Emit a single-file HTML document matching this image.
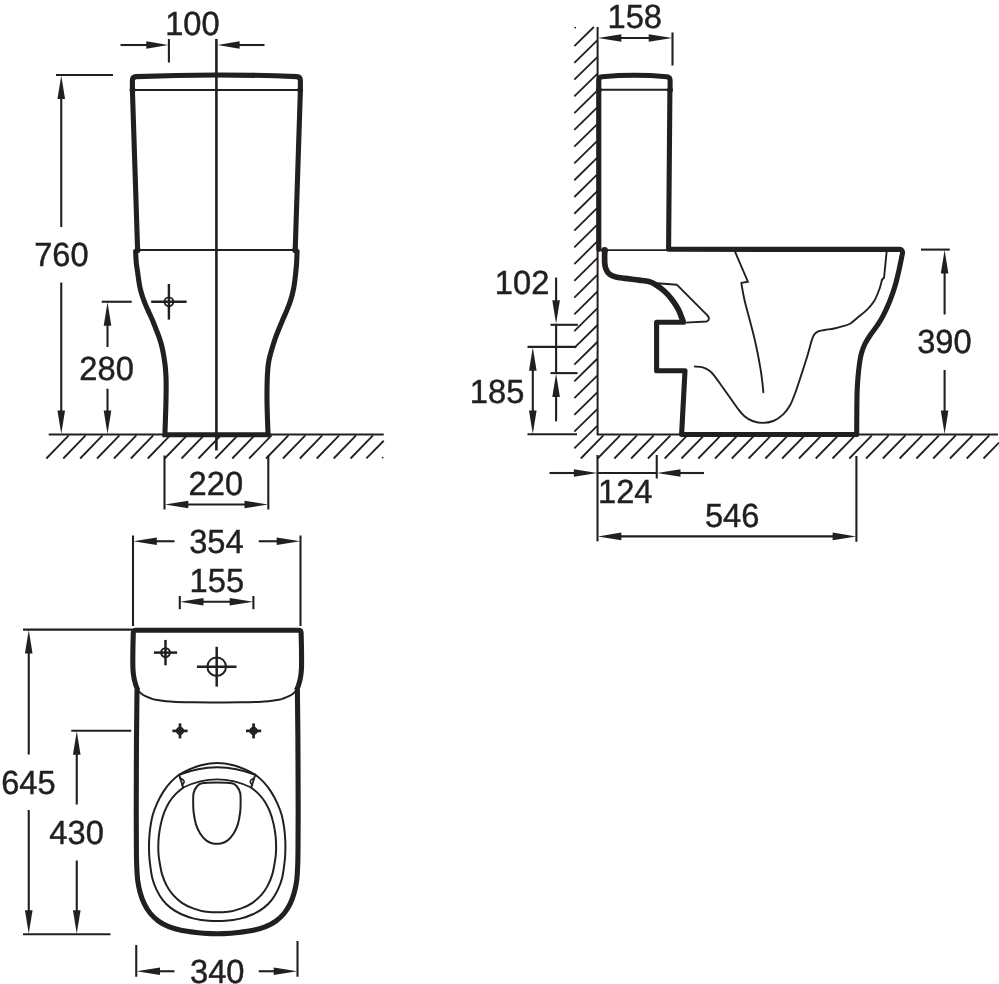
<!DOCTYPE html>
<html><head><meta charset="utf-8"><title>Dimension drawing</title>
<style>
html,body{margin:0;padding:0;background:#fff;overflow:hidden}
svg{display:block;will-change:transform;opacity:.9999}
svg *{stroke:#231f20;fill:none}
svg .f{fill:#231f20;stroke:none}
svg text{font-family:"Liberation Sans",sans-serif;fill:#231f20;stroke:#231f20;stroke-width:0.45;text-rendering:geometricPrecision}
</style></head>
<body>
<svg width="999" height="984" viewBox="0 0 999 984">
<rect x="0" y="0" width="999" height="984" style="fill:#fff;stroke:none"/>
<line x1="216.40" y1="39.00" x2="216.40" y2="450.50" stroke-width="2.6" stroke-linecap="butt" />
<path d="M132.4,90 L132.4,80.5 Q132.4,76.9 136.2,76.6 Q216.3,73.3 296.6,76.6 Q300.4,76.9 300.4,80.5 L300.4,90" stroke-width="5.1" stroke-linejoin="round" stroke-linecap="round"/>
<line x1="132.40" y1="90.00" x2="300.40" y2="90.00" stroke-width="1.9" stroke-linecap="butt" />
<path d="M132.4,90 L137.6,250" stroke-width="5.1" stroke-linejoin="round" stroke-linecap="round"/>
<path d="M300.4,90 L295.2,250" stroke-width="5.1" stroke-linejoin="round" stroke-linecap="round"/>
<line x1="137.60" y1="250.00" x2="295.20" y2="250.00" stroke-width="1.9" stroke-linecap="butt" />
<circle class="f" cx="132.6" cy="90" r="2.9"/>
<circle class="f" cx="300.2" cy="90" r="2.9"/>
<circle class="f" cx="137.7" cy="250" r="2.9"/>
<circle class="f" cx="295.1" cy="250" r="2.9"/>
<path d="M135.60,251.20 C135.72,253.17 135.97,259.53 136.30,263.00 C136.63,266.47 137.20,269.17 137.60,272.00 C138.00,274.83 138.28,277.32 138.70,280.00 C139.12,282.68 139.48,285.38 140.10,288.10 C140.72,290.82 141.52,293.58 142.40,296.30 C143.28,299.02 144.30,301.70 145.40,304.40 C146.50,307.10 147.78,309.78 149.00,312.50 C150.22,315.22 151.55,317.98 152.70,320.70 C153.85,323.42 154.85,326.10 155.90,328.80 C156.95,331.50 158.07,334.20 159.00,336.90 C159.93,339.60 160.78,342.28 161.50,345.00 C162.22,347.72 162.82,350.70 163.30,353.20 C163.78,355.70 164.05,357.53 164.40,360.00 C164.75,362.47 165.12,364.67 165.40,368.00 C165.68,371.33 166.00,374.67 166.10,380.00 C166.20,385.33 166.12,393.33 166.00,400.00 C165.88,406.67 165.58,414.22 165.40,420.00 C165.22,425.78 164.98,432.25 164.90,434.70 L268.1,434.7" stroke-width="5.1" stroke-linejoin="miter" stroke-linecap="round"/>
<path d="M297.10,251.20 C297.02,253.17 296.82,259.53 296.60,263.00 C296.38,266.47 296.08,269.17 295.80,272.00 C295.52,274.83 295.25,277.32 294.90,280.00 C294.55,282.68 294.22,285.38 293.70,288.10 C293.18,290.82 292.55,293.58 291.80,296.30 C291.05,299.02 290.18,301.70 289.20,304.40 C288.22,307.10 287.05,309.78 285.90,312.50 C284.75,315.22 283.45,317.98 282.30,320.70 C281.15,323.42 280.08,326.10 279.00,328.80 C277.92,331.50 276.78,334.20 275.80,336.90 C274.82,339.60 273.95,342.28 273.10,345.00 C272.25,347.72 271.38,350.70 270.70,353.20 C270.02,355.70 269.47,357.53 269.00,360.00 C268.53,362.47 268.20,364.67 267.90,368.00 C267.60,371.33 267.35,374.67 267.20,380.00 C267.05,385.33 266.95,393.33 267.00,400.00 C267.05,406.67 267.32,414.22 267.50,420.00 C267.68,425.78 268.00,432.25 268.10,434.70" stroke-width="5.1" stroke-linejoin="round" stroke-linecap="round"/>
<line x1="120.50" y1="45.00" x2="150.00" y2="45.00" stroke-width="2.1" stroke-linecap="butt" />
<polygon class="f" points="168.30,45.00 146.30,41.30 146.30,48.70"/>
<line x1="168.90" y1="39.00" x2="168.90" y2="62.50" stroke-width="2.1" stroke-linecap="butt" />
<line x1="236.00" y1="45.00" x2="264.50" y2="45.00" stroke-width="2.1" stroke-linecap="butt" />
<polygon class="f" points="217.60,45.00 239.60,41.30 239.60,48.70"/>
<text transform="translate(165.20,34.80) scale(0.975,1)" font-size="33.5">100</text>
<line x1="56.00" y1="75.00" x2="113.00" y2="75.00" stroke-width="2.1" stroke-linecap="butt" />
<line x1="61.25" y1="95.00" x2="61.25" y2="227.00" stroke-width="2.1" stroke-linecap="butt" />
<polygon class="f" points="61.25,75.50 57.45,99.00 65.05,99.00"/>
<text transform="translate(34.20,266.30) scale(0.975,1)" font-size="33.5">760</text>
<line x1="61.25" y1="282.50" x2="61.25" y2="415.00" stroke-width="2.1" stroke-linecap="butt" />
<polygon class="f" points="61.25,434.00 57.45,410.50 65.05,410.50"/>
<line x1="101.75" y1="301.75" x2="131.75" y2="301.75" stroke-width="2.1" stroke-linecap="butt" />
<line x1="107.50" y1="320.00" x2="107.50" y2="347.00" stroke-width="2.1" stroke-linecap="butt" />
<polygon class="f" points="107.50,302.30 103.70,325.80 111.30,325.80"/>
<text transform="translate(79.30,379.60) scale(0.975,1)" font-size="33.5">280</text>
<line x1="107.50" y1="388.75" x2="107.50" y2="415.00" stroke-width="2.1" stroke-linecap="butt" />
<polygon class="f" points="107.50,434.00 103.70,410.50 111.30,410.50"/>
<line x1="151.20" y1="301.80" x2="186.60" y2="301.80" stroke-width="2.4" stroke-linecap="butt" />
<line x1="168.90" y1="284.00" x2="168.90" y2="319.60" stroke-width="2.4" stroke-linecap="butt" />
<circle cx="168.90" cy="301.80" r="4.4" stroke-width="1.92"/>
<line x1="48.75" y1="434.50" x2="383.75" y2="434.50" stroke-width="2.0" stroke-linecap="butt" />
<line x1="68.75" y1="435.30" x2="46.35" y2="458.50" stroke-width="1.8" stroke-linecap="butt" />
<line x1="85.65" y1="435.30" x2="63.25" y2="458.50" stroke-width="1.8" stroke-linecap="butt" />
<line x1="102.55" y1="435.30" x2="80.15" y2="458.50" stroke-width="1.8" stroke-linecap="butt" />
<line x1="119.45" y1="435.30" x2="97.05" y2="458.50" stroke-width="1.8" stroke-linecap="butt" />
<line x1="136.35" y1="435.30" x2="113.95" y2="458.50" stroke-width="1.8" stroke-linecap="butt" />
<line x1="153.25" y1="435.30" x2="130.85" y2="458.50" stroke-width="1.8" stroke-linecap="butt" />
<line x1="170.15" y1="435.30" x2="147.75" y2="458.50" stroke-width="1.8" stroke-linecap="butt" />
<line x1="187.05" y1="435.30" x2="164.65" y2="458.50" stroke-width="1.8" stroke-linecap="butt" />
<line x1="203.95" y1="435.30" x2="181.55" y2="458.50" stroke-width="1.8" stroke-linecap="butt" />
<line x1="220.85" y1="435.30" x2="198.45" y2="458.50" stroke-width="1.8" stroke-linecap="butt" />
<line x1="237.75" y1="435.30" x2="215.35" y2="458.50" stroke-width="1.8" stroke-linecap="butt" />
<line x1="254.65" y1="435.30" x2="232.25" y2="458.50" stroke-width="1.8" stroke-linecap="butt" />
<line x1="271.55" y1="435.30" x2="249.15" y2="458.50" stroke-width="1.8" stroke-linecap="butt" />
<line x1="288.45" y1="435.30" x2="266.05" y2="458.50" stroke-width="1.8" stroke-linecap="butt" />
<line x1="305.35" y1="435.30" x2="282.95" y2="458.50" stroke-width="1.8" stroke-linecap="butt" />
<line x1="322.25" y1="435.30" x2="299.85" y2="458.50" stroke-width="1.8" stroke-linecap="butt" />
<line x1="339.15" y1="435.30" x2="316.75" y2="458.50" stroke-width="1.8" stroke-linecap="butt" />
<line x1="356.05" y1="435.30" x2="333.65" y2="458.50" stroke-width="1.8" stroke-linecap="butt" />
<line x1="372.95" y1="435.30" x2="350.55" y2="458.50" stroke-width="1.8" stroke-linecap="butt" />
<line x1="383.75" y1="440.75" x2="366.40" y2="458.30" stroke-width="1.8" stroke-linecap="butt" />
<circle class="f" cx="382.6" cy="457.6" r="0.9"/>
<line x1="164.50" y1="455.50" x2="164.50" y2="509.50" stroke-width="2.1" stroke-linecap="butt" />
<line x1="268.30" y1="455.50" x2="268.30" y2="509.50" stroke-width="2.1" stroke-linecap="butt" />
<line x1="185.00" y1="504.50" x2="248.00" y2="504.50" stroke-width="2.1" stroke-linecap="butt" />
<polygon class="f" points="164.80,504.50 188.30,500.70 188.30,508.30"/>
<polygon class="f" points="268.00,504.50 244.50,500.70 244.50,508.30"/>
<text transform="translate(188.60,494.60) scale(0.975,1)" font-size="33.5">220</text>
<line x1="133.00" y1="535.50" x2="133.00" y2="626.00" stroke-width="2.1" stroke-linecap="butt" />
<line x1="300.50" y1="535.50" x2="300.50" y2="626.00" stroke-width="2.1" stroke-linecap="butt" />
<polygon class="f" points="133.30,541.25 156.80,537.45 156.80,545.05"/>
<line x1="153.00" y1="541.25" x2="174.50" y2="541.25" stroke-width="2.1" stroke-linecap="butt" />
<polygon class="f" points="300.20,541.25 276.70,537.45 276.70,545.05"/>
<line x1="258.75" y1="541.25" x2="280.00" y2="541.25" stroke-width="2.1" stroke-linecap="butt" />
<text transform="translate(189.20,553.20) scale(0.975,1)" font-size="33.5">354</text>
<text transform="translate(189.60,591.60) scale(0.975,1)" font-size="33.5">155</text>
<line x1="179.80" y1="596.00" x2="179.80" y2="609.20" stroke-width="2.1" stroke-linecap="butt" />
<line x1="253.40" y1="596.00" x2="253.40" y2="609.20" stroke-width="2.1" stroke-linecap="butt" />
<line x1="200.00" y1="601.75" x2="233.00" y2="601.75" stroke-width="2.1" stroke-linecap="butt" />
<polygon class="f" points="180.00,601.75 203.50,597.95 203.50,605.55"/>
<polygon class="f" points="253.20,601.75 229.70,597.95 229.70,605.55"/>
<path d="M137.9,690.3 C134.9,684 133.2,677 132.9,668 C132.6,655 133.1,640 133.3,632.8 Q133.3,630.2 135.9,630.2 L298.5,630.2 Q301.1,630.2 301.1,632.8 C301.3,640 301.8,655 301.5,668 C301.2,677 299.5,684 296.5,690.3" stroke-width="5.1" stroke-linejoin="round" stroke-linecap="butt"/>
<path d="M137.90,690.10 C138.48,690.70 140.13,692.68 141.40,693.70 C142.67,694.72 143.97,695.43 145.50,696.20 C147.03,696.97 148.90,697.70 150.60,698.30 C152.30,698.90 153.17,699.30 155.70,699.80 C158.23,700.30 162.42,700.95 165.80,701.30 C169.18,701.65 171.13,701.73 176.00,701.90 C180.87,702.07 188.13,702.22 195.00,702.30 C201.87,702.38 209.80,702.40 217.20,702.40 C224.60,702.40 232.53,702.38 239.40,702.30 C246.27,702.22 253.53,702.07 258.40,701.90 C263.27,701.73 265.22,701.65 268.60,701.30 C271.98,700.95 276.17,700.30 278.70,699.80 C281.23,699.30 282.10,698.90 283.80,698.30 C285.50,697.70 287.37,696.97 288.90,696.20 C290.43,695.43 291.73,694.72 293.00,693.70 C294.27,692.68 295.92,690.70 296.50,690.10" stroke-width="2.0" stroke-linejoin="round" stroke-linecap="round"/>
<path d="M137.00,690.50 C136.92,698.42 136.62,717.58 136.50,738.00 C136.38,758.42 136.27,794.33 136.25,813.00 C136.23,831.67 136.33,841.30 136.40,850.00 C136.47,858.70 136.48,860.12 136.70,865.20 C136.92,870.28 137.12,875.92 137.70,880.50 C138.28,885.08 139.10,888.80 140.20,892.70 C141.30,896.60 142.60,900.43 144.30,903.90 C146.00,907.37 148.03,910.63 150.40,913.50 C152.77,916.37 155.45,918.90 158.50,921.10 C161.55,923.30 164.97,925.17 168.70,926.70 C172.43,928.23 176.33,929.33 180.90,930.30 C185.47,931.27 191.17,931.95 196.10,932.50 C201.03,933.05 205.87,933.42 210.50,933.60 C215.13,933.78 219.27,933.78 223.90,933.60 C228.53,933.42 233.37,933.05 238.30,932.50 C243.23,931.95 248.93,931.27 253.50,930.30 C258.07,929.33 261.97,928.23 265.70,926.70 C269.43,925.17 272.85,923.30 275.90,921.10 C278.95,918.90 281.63,916.37 284.00,913.50 C286.37,910.63 288.40,907.37 290.10,903.90 C291.80,900.43 293.10,896.60 294.20,892.70 C295.30,888.80 296.12,885.08 296.70,880.50 C297.28,875.92 297.48,870.28 297.70,865.20 C297.92,860.12 297.93,858.70 298.00,850.00 C298.07,841.30 298.17,831.67 298.15,813.00 C298.13,794.33 298.02,758.42 297.90,738.00 C297.77,717.58 297.48,698.42 297.40,690.50" stroke-width="5.1" stroke-linejoin="round" stroke-linecap="round"/>
<line x1="153.90" y1="652.60" x2="177.10" y2="652.60" stroke-width="2.5" stroke-linecap="butt" />
<line x1="165.50" y1="639.90" x2="165.50" y2="665.30" stroke-width="2.5" stroke-linecap="butt" />
<circle cx="165.50" cy="652.60" r="4.4" stroke-width="2.00"/>
<line x1="196.90" y1="666.70" x2="236.50" y2="666.70" stroke-width="2.5" stroke-linecap="butt" />
<line x1="216.70" y1="646.80" x2="216.70" y2="686.60" stroke-width="2.5" stroke-linecap="butt" />
<circle cx="216.70" cy="666.70" r="9.3" stroke-width="2.00"/>
<line x1="172.40" y1="730.90" x2="187.60" y2="730.90" stroke-width="2.7" stroke-linecap="butt" />
<line x1="180.00" y1="723.40" x2="180.00" y2="738.40" stroke-width="2.7" stroke-linecap="butt" />
<circle cx="180.00" cy="730.90" r="3.1" stroke-width="2.16"/>
<line x1="246.00" y1="730.90" x2="261.20" y2="730.90" stroke-width="2.7" stroke-linecap="butt" />
<line x1="253.60" y1="723.40" x2="253.60" y2="738.40" stroke-width="2.7" stroke-linecap="butt" />
<circle cx="253.60" cy="730.90" r="3.1" stroke-width="2.16"/>
<path d="M217.20,763.10 C211.80,763.10 205.73,764.10 201.00,765.20 C196.27,766.30 192.45,768.10 188.80,769.70 C185.15,771.30 182.15,772.68 179.10,774.80 C176.05,776.92 173.12,779.60 170.50,782.40 C167.88,785.20 165.60,788.20 163.40,791.60 C161.20,795.00 159.08,798.90 157.30,802.80 C155.52,806.70 153.88,810.77 152.70,815.00 C151.52,819.23 150.80,823.80 150.20,828.20 C149.60,832.60 149.27,836.93 149.10,841.40 C148.93,845.87 149.02,851.03 149.20,855.00 C149.38,858.97 149.67,861.28 150.20,865.20 C150.73,869.12 151.35,874.43 152.40,878.50 C153.45,882.57 154.80,886.05 156.50,889.60 C158.20,893.15 160.23,896.75 162.60,899.80 C164.97,902.85 167.65,905.53 170.70,907.90 C173.75,910.27 177.00,912.22 180.90,914.00 C184.80,915.78 189.45,917.47 194.10,918.60 C198.75,919.73 203.55,920.43 208.80,920.80 C214.05,921.17 220.35,921.17 225.60,920.80 C230.85,920.43 235.65,919.73 240.30,918.60 C244.95,917.47 249.60,915.78 253.50,914.00 C257.40,912.22 260.65,910.27 263.70,907.90 C266.75,905.53 269.43,902.85 271.80,899.80 C274.17,896.75 276.20,893.15 277.90,889.60 C279.60,886.05 280.95,882.57 282.00,878.50 C283.05,874.43 283.67,869.12 284.20,865.20 C284.73,861.28 285.02,858.97 285.20,855.00 C285.38,851.03 285.47,845.87 285.30,841.40 C285.13,836.93 284.80,832.60 284.20,828.20 C283.60,823.80 282.88,819.23 281.70,815.00 C280.52,810.77 278.88,806.70 277.10,802.80 C275.32,798.90 273.20,795.00 271.00,791.60 C268.80,788.20 266.52,785.20 263.90,782.40 C261.28,779.60 258.35,776.92 255.30,774.80 C252.25,772.68 249.25,771.30 245.60,769.70 C241.95,768.10 238.13,766.30 233.40,765.20 C228.67,764.10 222.60,763.10 217.20,763.10Z" stroke-width="2.0" stroke-linejoin="round" stroke-linecap="round"/>
<path d="M183.20,787.50 C181.93,788.60 177.88,791.73 175.60,794.10 C173.32,796.47 171.37,798.73 169.50,801.70 C167.63,804.67 165.85,808.17 164.40,811.90 C162.95,815.63 161.73,820.03 160.80,824.10 C159.87,828.17 159.22,832.57 158.80,836.30 C158.38,840.03 158.33,843.38 158.30,846.50 C158.27,849.62 158.38,852.38 158.60,855.00 C158.82,857.62 159.02,858.97 159.60,862.20 C160.18,865.43 160.92,870.50 162.10,874.40 C163.28,878.30 164.92,882.22 166.70,885.60 C168.48,888.98 170.27,891.83 172.80,894.70 C175.33,897.57 178.52,900.52 181.90,902.80 C185.28,905.08 189.03,906.90 193.10,908.40 C197.17,909.90 200.47,911.23 206.30,911.80 C212.13,912.37 222.27,912.37 228.10,911.80 C233.93,911.23 237.23,909.90 241.30,908.40 C245.37,906.90 249.12,905.08 252.50,902.80 C255.88,900.52 259.07,897.57 261.60,894.70 C264.13,891.83 265.92,888.98 267.70,885.60 C269.48,882.22 271.12,878.30 272.30,874.40 C273.48,870.50 274.22,865.43 274.80,862.20 C275.38,858.97 275.58,857.62 275.80,855.00 C276.02,852.38 276.13,849.62 276.10,846.50 C276.07,843.38 276.02,840.03 275.60,836.30 C275.18,832.57 274.53,828.17 273.60,824.10 C272.67,820.03 271.45,815.63 270.00,811.90 C268.55,808.17 266.77,804.67 264.90,801.70 C263.03,798.73 261.08,796.47 258.80,794.10 C256.52,791.73 252.47,788.60 251.20,787.50" stroke-width="2.0" stroke-linejoin="round" stroke-linecap="round"/>
<path d="M179.1,774.8 Q217.2,759.6 255.3,774.8" stroke-width="1.9" stroke-linejoin="round" stroke-linecap="round"/>
<path d="M183.2,787.5 Q217.2,771.3 251.2,787.5" stroke-width="1.9" stroke-linejoin="round" stroke-linecap="round"/>
<path d="M179.1,774.8 L183.2,787.5 M255.3,774.8 L251.2,787.5" stroke-width="1.9" stroke-linejoin="round" stroke-linecap="round"/>
<path d="M180.1,778.2 Q187.2,780.6 181.9,785.2 M254.3,778.2 Q247.2,780.6 252.5,785.2" stroke-width="1.5" stroke-linejoin="round" stroke-linecap="round"/>
<path d="M216.90,782.40 C211.93,782.40 205.33,782.52 202.00,783.20 C198.67,783.88 198.30,784.87 196.90,786.50 C195.50,788.13 194.22,790.25 193.60,793.00 C192.98,795.75 193.20,799.83 193.20,803.00 C193.20,806.17 193.15,808.48 193.60,812.00 C194.05,815.52 194.83,820.55 195.90,824.10 C196.97,827.65 198.30,830.58 200.00,833.30 C201.70,836.02 203.97,838.72 206.10,840.40 C208.23,842.08 210.32,842.90 212.80,843.40 C215.28,843.90 218.52,843.90 221.00,843.40 C223.48,842.90 225.57,842.08 227.70,840.40 C229.83,838.72 232.10,836.02 233.80,833.30 C235.50,830.58 236.83,827.65 237.90,824.10 C238.97,820.55 239.75,815.52 240.20,812.00 C240.65,808.48 240.60,806.17 240.60,803.00 C240.60,799.83 240.82,795.75 240.20,793.00 C239.58,790.25 238.30,788.13 236.90,786.50 C235.50,784.87 235.13,783.88 231.80,783.20 C228.47,782.52 221.87,782.40 216.90,782.40Z" stroke-width="2.0" stroke-linejoin="round" stroke-linecap="round"/>
<line x1="23.00" y1="629.60" x2="132.00" y2="629.60" stroke-width="2.1" stroke-linecap="butt" />
<line x1="28.75" y1="650.00" x2="28.75" y2="754.50" stroke-width="2.1" stroke-linecap="butt" />
<polygon class="f" points="28.75,630.00 24.95,653.50 32.55,653.50"/>
<text transform="translate(1.20,794.00) scale(0.975,1)" font-size="33.5">645</text>
<line x1="28.75" y1="810.00" x2="28.75" y2="915.00" stroke-width="2.1" stroke-linecap="butt" />
<polygon class="f" points="28.75,933.80 24.95,910.30 32.55,910.30"/>
<line x1="71.25" y1="730.75" x2="131.25" y2="730.75" stroke-width="2.1" stroke-linecap="butt" />
<line x1="76.75" y1="750.00" x2="76.75" y2="804.50" stroke-width="2.1" stroke-linecap="butt" />
<polygon class="f" points="76.75,731.20 72.95,754.70 80.55,754.70"/>
<text transform="translate(49.30,843.90) scale(0.975,1)" font-size="33.5">430</text>
<line x1="76.75" y1="860.50" x2="76.75" y2="915.00" stroke-width="2.1" stroke-linecap="butt" />
<polygon class="f" points="76.75,933.80 72.95,910.30 80.55,910.30"/>
<line x1="23.00" y1="934.25" x2="110.50" y2="934.25" stroke-width="2.1" stroke-linecap="butt" />
<line x1="136.25" y1="945.00" x2="136.25" y2="976.75" stroke-width="2.1" stroke-linecap="butt" />
<line x1="297.50" y1="941.00" x2="297.50" y2="976.75" stroke-width="2.1" stroke-linecap="butt" />
<polygon class="f" points="136.50,971.25 160.00,967.45 160.00,975.05"/>
<line x1="157.00" y1="971.25" x2="174.50" y2="971.25" stroke-width="2.1" stroke-linecap="butt" />
<polygon class="f" points="297.20,971.25 273.70,967.45 273.70,975.05"/>
<line x1="258.75" y1="971.25" x2="280.00" y2="971.25" stroke-width="2.1" stroke-linecap="butt" />
<text transform="translate(190.00,983.20) scale(0.975,1)" font-size="33.5">340</text>
<line x1="597.60" y1="27.00" x2="597.60" y2="434.50" stroke-width="2.0" stroke-linecap="butt" />
<line x1="597.30" y1="425.80" x2="574.30" y2="448.40" stroke-width="1.8" stroke-linecap="butt" />
<line x1="597.30" y1="409.04" x2="574.30" y2="431.64" stroke-width="1.8" stroke-linecap="butt" />
<line x1="597.30" y1="392.28" x2="574.30" y2="414.88" stroke-width="1.8" stroke-linecap="butt" />
<line x1="597.30" y1="375.52" x2="574.30" y2="398.12" stroke-width="1.8" stroke-linecap="butt" />
<line x1="597.30" y1="358.76" x2="574.30" y2="381.36" stroke-width="1.8" stroke-linecap="butt" />
<line x1="597.30" y1="342.00" x2="574.30" y2="364.60" stroke-width="1.8" stroke-linecap="butt" />
<line x1="597.30" y1="325.24" x2="574.30" y2="347.84" stroke-width="1.8" stroke-linecap="butt" />
<line x1="597.30" y1="308.48" x2="574.30" y2="331.08" stroke-width="1.8" stroke-linecap="butt" />
<line x1="597.30" y1="291.72" x2="574.30" y2="314.32" stroke-width="1.8" stroke-linecap="butt" />
<line x1="597.30" y1="274.96" x2="574.30" y2="297.56" stroke-width="1.8" stroke-linecap="butt" />
<line x1="597.30" y1="258.20" x2="574.30" y2="280.80" stroke-width="1.8" stroke-linecap="butt" />
<line x1="597.30" y1="241.44" x2="574.30" y2="264.04" stroke-width="1.8" stroke-linecap="butt" />
<line x1="597.30" y1="224.68" x2="574.30" y2="247.28" stroke-width="1.8" stroke-linecap="butt" />
<line x1="597.30" y1="207.92" x2="574.30" y2="230.52" stroke-width="1.8" stroke-linecap="butt" />
<line x1="597.30" y1="191.16" x2="574.30" y2="213.76" stroke-width="1.8" stroke-linecap="butt" />
<line x1="597.30" y1="174.40" x2="574.30" y2="197.00" stroke-width="1.8" stroke-linecap="butt" />
<line x1="597.30" y1="157.64" x2="574.30" y2="180.24" stroke-width="1.8" stroke-linecap="butt" />
<line x1="597.30" y1="140.88" x2="574.30" y2="163.48" stroke-width="1.8" stroke-linecap="butt" />
<line x1="597.30" y1="124.12" x2="574.30" y2="146.72" stroke-width="1.8" stroke-linecap="butt" />
<line x1="597.30" y1="107.36" x2="574.30" y2="129.96" stroke-width="1.8" stroke-linecap="butt" />
<line x1="597.30" y1="90.60" x2="574.30" y2="113.20" stroke-width="1.8" stroke-linecap="butt" />
<line x1="597.30" y1="73.84" x2="574.30" y2="96.44" stroke-width="1.8" stroke-linecap="butt" />
<line x1="597.30" y1="57.08" x2="574.30" y2="79.68" stroke-width="1.8" stroke-linecap="butt" />
<line x1="597.30" y1="40.32" x2="574.30" y2="62.92" stroke-width="1.8" stroke-linecap="butt" />
<line x1="593.86" y1="27.00" x2="574.30" y2="46.16" stroke-width="1.8" stroke-linecap="butt" />
<circle class="f" cx="575.2" cy="27.6" r="0.9"/>
<line x1="596.80" y1="434.50" x2="998.00" y2="434.50" stroke-width="2.0" stroke-linecap="butt" />
<line x1="603.40" y1="435.30" x2="580.80" y2="458.50" stroke-width="1.8" stroke-linecap="butt" />
<line x1="620.18" y1="435.30" x2="597.58" y2="458.50" stroke-width="1.8" stroke-linecap="butt" />
<line x1="636.96" y1="435.30" x2="614.36" y2="458.50" stroke-width="1.8" stroke-linecap="butt" />
<line x1="653.74" y1="435.30" x2="631.14" y2="458.50" stroke-width="1.8" stroke-linecap="butt" />
<line x1="670.52" y1="435.30" x2="647.92" y2="458.50" stroke-width="1.8" stroke-linecap="butt" />
<line x1="687.30" y1="435.30" x2="664.70" y2="458.50" stroke-width="1.8" stroke-linecap="butt" />
<line x1="704.08" y1="435.30" x2="681.48" y2="458.50" stroke-width="1.8" stroke-linecap="butt" />
<line x1="720.86" y1="435.30" x2="698.26" y2="458.50" stroke-width="1.8" stroke-linecap="butt" />
<line x1="737.64" y1="435.30" x2="715.04" y2="458.50" stroke-width="1.8" stroke-linecap="butt" />
<line x1="754.42" y1="435.30" x2="731.82" y2="458.50" stroke-width="1.8" stroke-linecap="butt" />
<line x1="771.20" y1="435.30" x2="748.60" y2="458.50" stroke-width="1.8" stroke-linecap="butt" />
<line x1="787.98" y1="435.30" x2="765.38" y2="458.50" stroke-width="1.8" stroke-linecap="butt" />
<line x1="804.76" y1="435.30" x2="782.16" y2="458.50" stroke-width="1.8" stroke-linecap="butt" />
<line x1="821.54" y1="435.30" x2="798.94" y2="458.50" stroke-width="1.8" stroke-linecap="butt" />
<line x1="838.32" y1="435.30" x2="815.72" y2="458.50" stroke-width="1.8" stroke-linecap="butt" />
<line x1="855.10" y1="435.30" x2="832.50" y2="458.50" stroke-width="1.8" stroke-linecap="butt" />
<line x1="871.88" y1="435.30" x2="849.28" y2="458.50" stroke-width="1.8" stroke-linecap="butt" />
<line x1="888.66" y1="435.30" x2="866.06" y2="458.50" stroke-width="1.8" stroke-linecap="butt" />
<line x1="905.44" y1="435.30" x2="882.84" y2="458.50" stroke-width="1.8" stroke-linecap="butt" />
<line x1="922.22" y1="435.30" x2="899.62" y2="458.50" stroke-width="1.8" stroke-linecap="butt" />
<line x1="939.00" y1="435.30" x2="916.40" y2="458.50" stroke-width="1.8" stroke-linecap="butt" />
<line x1="955.78" y1="435.30" x2="933.18" y2="458.50" stroke-width="1.8" stroke-linecap="butt" />
<line x1="972.56" y1="435.30" x2="949.96" y2="458.50" stroke-width="1.8" stroke-linecap="butt" />
<line x1="989.34" y1="435.30" x2="966.74" y2="458.50" stroke-width="1.8" stroke-linecap="butt" />
<line x1="999.00" y1="442.56" x2="983.52" y2="458.50" stroke-width="1.8" stroke-linecap="butt" />
<path d="M598.8,90 L598.8,80.4 Q598.8,77 602.3,76.7 Q634.5,73.9 666.6,76.7 Q670.1,77 670.1,80.4 L670.1,90" stroke-width="5.1" stroke-linejoin="round" stroke-linecap="round"/>
<line x1="598.80" y1="89.80" x2="670.00" y2="89.80" stroke-width="1.9" stroke-linecap="butt" />
<path d="M598.8,90 L598.8,249.3" stroke-width="5.1" stroke-linejoin="round" stroke-linecap="round"/>
<line x1="600.00" y1="250.10" x2="668.00" y2="250.10" stroke-width="1.9" stroke-linecap="butt" />
<circle class="f" cx="598.9" cy="90" r="2.8"/>
<circle class="f" cx="670" cy="90" r="2.8"/>
<path d="M669.9,90 L668.6,249.3 L899.5,249.4 Q902.9,249.5 902.5,253.5 C902.40,253.92 902.50,253.17 901.90,256.00 C901.30,258.83 900.03,265.55 898.90,270.50 C897.77,275.45 896.62,280.62 895.10,285.70 C893.58,290.78 891.83,295.92 889.80,301.00 C887.77,306.08 884.98,312.13 882.90,316.20 C880.82,320.27 879.33,322.35 877.30,325.40 C875.27,328.45 872.73,331.45 870.70,334.50 C868.67,337.55 866.62,340.65 865.10,343.70 C863.58,346.75 862.50,349.75 861.60,352.80 C860.70,355.85 860.30,357.93 859.70,362.00 C859.10,366.07 858.43,372.20 858.00,377.20 C857.57,382.20 857.30,385.70 857.10,392.00 C856.90,398.30 856.87,407.92 856.80,415.00 C856.73,422.08 856.72,431.25 856.70,434.50 L681.6,434.5" stroke-width="5.1" stroke-linejoin="round" stroke-linecap="butt"/>
<path d="M604.70,249.70 C604.70,251.92 604.47,259.73 604.70,263.00 C604.93,266.27 605.28,267.43 606.10,269.30 C606.92,271.17 607.97,272.92 609.60,274.20 C611.23,275.48 613.33,276.30 615.90,277.00 C618.47,277.70 621.15,277.88 625.00,278.40 C628.85,278.92 635.03,279.57 639.00,280.10 C642.97,280.63 646.00,280.83 648.80,281.60 C651.60,282.37 653.23,283.13 655.80,284.70 C658.37,286.27 661.52,288.55 664.20,291.00 C666.88,293.45 669.57,296.37 671.90,299.40 C674.23,302.43 676.57,306.17 678.20,309.20 C679.83,312.23 680.85,315.43 681.70,317.60 C682.55,319.77 683.03,321.43 683.30,322.20" stroke-width="5.7" stroke-linejoin="round" stroke-linecap="butt"/>
<path d="M685.5,322.2 L656.6,322.2 L656.6,370.8 L685,370.8 L681.6,434.5 L692,434.5" stroke-width="5.1" stroke-linejoin="round" stroke-linecap="butt"/>
<circle class="f" cx="604.6" cy="250.2" r="3.3"/>
<path d="M657.2,283.2 L676.8,284.7 L706.4,314.3 Q711.4,319 706.6,321.5 L685.2,322.6" stroke-width="1.9" stroke-linejoin="round" stroke-linecap="round"/>
<path d="M734.7,250.9 L747.9,281.75 L741.3,282.9" stroke-width="1.9" stroke-linejoin="miter" stroke-linecap="butt"/>
<path d="M741.30,282.90 C741.83,285.75 743.18,294.15 744.50,300.00 C745.82,305.85 747.60,311.85 749.20,318.00 C750.80,324.15 752.70,331.07 754.10,336.90 C755.50,342.73 756.53,347.67 757.60,353.00 C758.67,358.33 759.73,364.23 760.50,368.90 C761.27,373.57 761.72,377.10 762.20,381.00 C762.68,384.90 763.20,390.42 763.40,392.30" stroke-width="1.9" stroke-linejoin="round" stroke-linecap="round"/>
<path d="M694.80,366.50 C696.13,366.63 700.40,366.63 702.80,367.30 C705.20,367.97 707.33,369.17 709.20,370.50 C711.07,371.83 711.85,372.63 714.00,375.30 C716.15,377.97 719.42,382.75 722.10,386.50 C724.78,390.25 727.43,394.05 730.10,397.80 C732.77,401.55 735.70,405.93 738.10,409.00 C740.50,412.07 742.10,414.20 744.50,416.20 C746.90,418.20 749.43,419.88 752.50,421.00 C755.57,422.12 759.43,422.90 762.90,422.90 C766.37,422.90 769.97,422.38 773.30,421.00 C776.63,419.62 780.08,417.27 782.90,414.60 C785.72,411.93 788.05,408.88 790.20,405.00 C792.35,401.12 793.80,396.78 795.80,391.30 C797.80,385.82 800.20,378.23 802.20,372.10 C804.20,365.97 806.20,359.83 807.80,354.50 C809.40,349.17 810.73,343.43 811.80,340.10 C812.87,336.77 813.13,335.97 814.20,334.50 C815.27,333.03 816.47,332.05 818.20,331.30 C819.93,330.55 821.93,330.47 824.60,330.00 C827.27,329.53 831.27,329.10 834.20,328.50 C837.13,327.90 839.55,327.20 842.20,326.40 C844.85,325.60 847.57,325.15 850.10,323.70 C852.63,322.25 854.65,319.97 857.40,317.70 C860.15,315.43 863.80,312.88 866.60,310.10 C869.40,307.32 872.05,304.55 874.20,301.00 C876.35,297.45 878.22,292.30 879.50,288.80 C880.78,285.30 881.50,281.47 881.90,280.00" stroke-width="1.9" stroke-linejoin="round" stroke-linecap="round"/>
<path d="M886.7,251 L884.8,270 L884.1,277.5 L881.9,280" stroke-width="1.9" stroke-linejoin="round" stroke-linecap="round"/>
<line x1="672.50" y1="32.50" x2="672.50" y2="65.50" stroke-width="2.1" stroke-linecap="butt" />
<line x1="618.00" y1="38.00" x2="652.00" y2="38.00" stroke-width="2.1" stroke-linecap="butt" />
<polygon class="f" points="597.90,38.00 621.40,34.20 621.40,41.80"/>
<polygon class="f" points="672.20,38.00 648.70,34.20 648.70,41.80"/>
<text transform="translate(607.50,28.20) scale(0.975,1)" font-size="33.5">158</text>
<text transform="translate(494.80,293.60) scale(0.975,1)" font-size="33.5">102</text>
<line x1="556.10" y1="277.50" x2="556.10" y2="304.00" stroke-width="2.1" stroke-linecap="butt" />
<polygon class="f" points="556.10,323.80 552.30,300.30 559.90,300.30"/>
<line x1="550.50" y1="324.80" x2="577.80" y2="324.80" stroke-width="2.1" stroke-linecap="butt" />
<line x1="550.50" y1="373.10" x2="577.50" y2="373.10" stroke-width="2.1" stroke-linecap="butt" />
<line x1="556.10" y1="324.00" x2="556.10" y2="373.00" stroke-width="2.1" stroke-linecap="butt" />
<polygon class="f" points="556.10,373.40 552.30,396.90 559.90,396.90"/>
<line x1="556.10" y1="393.00" x2="556.10" y2="421.30" stroke-width="2.1" stroke-linecap="butt" />
<line x1="527.50" y1="346.90" x2="576.30" y2="346.90" stroke-width="2.1" stroke-linecap="butt" />
<line x1="527.50" y1="434.30" x2="577.00" y2="434.30" stroke-width="2.1" stroke-linecap="butt" />
<line x1="532.80" y1="366.00" x2="532.80" y2="415.00" stroke-width="2.1" stroke-linecap="butt" />
<polygon class="f" points="532.80,347.20 529.00,370.70 536.60,370.70"/>
<polygon class="f" points="532.80,434.00 529.00,410.50 536.60,410.50"/>
<text transform="translate(469.80,403.40) scale(0.975,1)" font-size="33.5">185</text>
<line x1="549.50" y1="473.00" x2="577.00" y2="473.00" stroke-width="2.1" stroke-linecap="butt" />
<polygon class="f" points="597.40,473.00 573.90,469.20 573.90,476.80"/>
<line x1="597.50" y1="455.00" x2="597.50" y2="541.30" stroke-width="2.1" stroke-linecap="butt" />
<line x1="597.50" y1="473.00" x2="656.75" y2="473.00" stroke-width="2.1" stroke-linecap="butt" />
<line x1="656.75" y1="455.00" x2="656.75" y2="478.50" stroke-width="2.1" stroke-linecap="butt" />
<polygon class="f" points="657.00,473.00 680.50,469.20 680.50,476.80"/>
<line x1="677.00" y1="473.00" x2="704.00" y2="473.00" stroke-width="2.1" stroke-linecap="butt" />
<text transform="translate(598.00,502.60) scale(0.975,1)" font-size="33.5">124</text>
<text transform="translate(704.90,526.90) scale(0.975,1)" font-size="33.5">546</text>
<line x1="856.40" y1="456.00" x2="856.40" y2="541.80" stroke-width="2.1" stroke-linecap="butt" />
<line x1="618.00" y1="536.40" x2="836.00" y2="536.40" stroke-width="2.1" stroke-linecap="butt" />
<polygon class="f" points="597.80,536.40 621.30,532.60 621.30,540.20"/>
<polygon class="f" points="856.10,536.40 832.60,532.60 832.60,540.20"/>
<line x1="921.00" y1="249.60" x2="949.80" y2="249.60" stroke-width="2.1" stroke-linecap="butt" />
<line x1="944.60" y1="269.00" x2="944.60" y2="314.50" stroke-width="2.1" stroke-linecap="butt" />
<polygon class="f" points="944.60,250.00 940.80,273.50 948.40,273.50"/>
<text transform="translate(917.20,353.20) scale(0.975,1)" font-size="33.5">390</text>
<line x1="944.60" y1="370.00" x2="944.60" y2="415.00" stroke-width="2.1" stroke-linecap="butt" />
<polygon class="f" points="944.60,434.00 940.80,410.50 948.40,410.50"/>
</svg>
</body></html>
